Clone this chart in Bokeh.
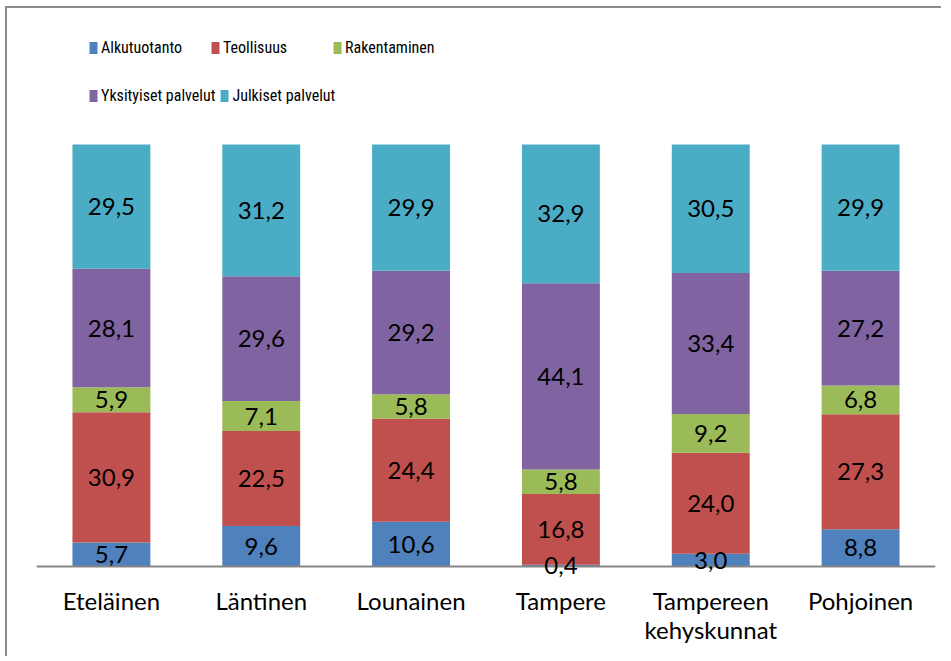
from bokeh.plotting import figure
from bokeh.models import ColumnDataSource, Legend, LegendItem, Range1d, FactorRange, Label, Span
from bokeh.embed import file_html
from bokeh.resources import INLINE

regions = ["Eteläinen", "Läntinen", "Lounainen", "Tampere", "Tampereen\nkehyskunnat", "Pohjoinen"]
series = ["Alkutuotanto", "Teollisuus", "Rakentaminen", "Yksityiset palvelut", "Julkiset palvelut"]
alkutuotanto = [5.7, 9.6, 10.6, 0.4, 3.0, 8.8]
teollisuus = [30.9, 22.5, 24.4, 16.8, 24.0, 27.3]
rakentaminen = [5.9, 7.1, 5.8, 5.8, 9.2, 6.8]
yksityiset = [28.1, 29.6, 29.2, 44.1, 33.4, 27.2]
julkiset = [29.5, 31.2, 29.9, 32.9, 30.5, 29.9]
colors = ["#4F81BD", "#C0504D", "#9BBB59", "#8064A2", "#4BACC6"]

values_all = [alkutuotanto, teollisuus, rakentaminen, yksityiset, julkiset]
keys = ["s0", "s1", "s2", "s3", "s4"]
totals = [sum(v[i] for v in values_all) for i in range(len(regions))]
shares = [[v[i] / totals[i] * 100 for i in range(len(regions))] for v in values_all]

data = {"region": regions}
for k, sh in zip(keys, shares):
    data[k] = sh
source = ColumnDataSource(data)

FONT = "Lato"

p = figure(
    width=936, height=650,
    x_range=FactorRange(*regions),
    y_range=Range1d(-3.554, 132.23),
    output_backend="svg", toolbar_location=None,
    min_border_left=29, min_border_right=8, min_border_top=0, min_border_bottom=77,
    outline_line_color=None,
    styles={"border-top": "2px solid #8a8a8a", "border-left": "2px solid #8a8a8a",
            "margin-left": "5px", "margin-top": "6px"},
)
p.xgrid.visible = False
p.ygrid.visible = False
p.yaxis.visible = False

renderers = p.vbar_stack(keys, x="region", width=0.52, color=colors, source=source,
                         line_color=None)

# category axis baseline at 0 %
p.add_layout(Span(location=0, dimension="width", line_color="#868686", line_width=2))

# data labels; x uses the categorical scale's synthetic coordinate (centre = index + 0.5)
for si, sh in enumerate(shares):
    bottoms = [sum(shares[j][i] for j in range(si)) for i in range(len(regions))]
    for i in range(len(regions)):
        mid = bottoms[i] + sh[i] / 2
        txt = f"{values_all[si][i]:.1f}".replace(".", ",")
        p.add_layout(Label(x=i + 0.5, y=mid, text=txt, text_font=FONT,
                           text_font_size="24px", text_align="center",
                           text_baseline="middle", text_color="#000000"))

ax = p.xaxis[0]
ax.axis_line_color = None
ax.major_tick_line_color = None
ax.minor_tick_line_color = None
ax.major_label_text_font = FONT
ax.major_label_text_font_size = "24px"
ax.major_label_text_color = "#000000"
ax.major_label_text_line_height = 1.0
ax.major_label_standoff = -2

LEG_FONT = "Roboto Condensed, DejaVu Sans Condensed, Liberation Sans Narrow, Roboto"

def make_legend(idx, loc):
    items = [LegendItem(label=series[i], renderers=[renderers[i]]) for i in idx]
    leg = Legend(items=items, orientation="horizontal", location=loc,
                 label_text_font=LEG_FONT, label_text_font_size="16px",
                 label_text_color="#000000",
                 glyph_width=10, glyph_height=15, label_standoff=3,
                 label_width=105, label_height=20, spacing=4,
                 padding=0, margin=0, border_line_color=None,
                 background_fill_alpha=0)
    p.add_layout(leg)

make_legend([0, 1, 2], (52, 524))
make_legend([3, 4], (52, 476))

open("out.html", "w").write(file_html(p, INLINE))
